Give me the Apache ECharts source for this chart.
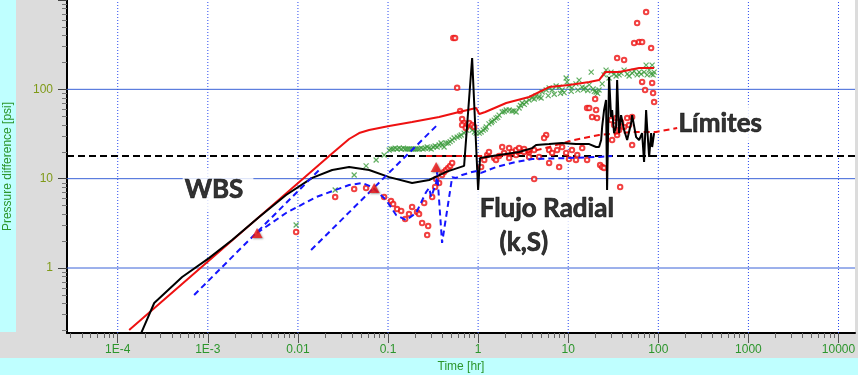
<!DOCTYPE html>
<html><head><meta charset="utf-8">
<script src="https://cdn.jsdelivr.net/npm/echarts@6/dist/echarts.min.js"></script>
<style>
html,body{margin:0;padding:0;}
#wrap{position:relative;width:858px;height:375px;background:#dcdcdc;overflow:hidden;}
.cy{position:absolute;background:#bfffff;}
#chart{position:absolute;left:0;top:0;width:858px;height:375px;}
</style></head><body>
<div id="wrap">
<div class="cy" style="left:0;top:0;width:16px;height:332px"></div>
<div class="cy" style="left:0;top:358px;width:858px;height:17px"></div>
<div id="chart"></div></div>
<script>
// ---- axis definitions (hr / psi) ----
const timeRange = [2.735e-5, 15240];
const pressureRange = [0.1873, 1000];
const xTickValues = [1e-4, 1e-3, 0.01, 0.1, 1, 10, 100, 1000, 10000];
const xTickLabels = ['1E-4', '1E-3', '0.01', '0.1', '1', '10', '100', '1000', '10000'];
const yTickValues = [1, 10, 100];
const yTickLabels = ['1', '10', '100'];
const yMajorTicks = [1, 10, 100, 1000];

// ---- data [time hr, pressure psi] ----
const pressureModel = [[1.34e-4,0.202],[0.0222,17.9],[0.0370,27.8],[0.0478,32.4],[0.0617,35.0],[0.103,38.8],[0.185,43.0],[0.369,49.0],[0.615,55.7],[0.951,61.8],[1.03,52.9],[1.2,55.7],[2.05,70.3],[3.68,82.1],[6.14,106],[10.2,112],[17.1,121],[22.0,127],[25.7,156],[36.7,156],[61.2,173],[89.8,173]];
const pressureData = [[1.82e-4,0.187],[2.54e-4,0.406],[5.19e-4,0.793],[1.03e-3,1.29],[1.86e-3,2.06],[3.71e-3,3.72],[7.39e-3,6.56],[0.0144,10.2],[0.024,12.5],[0.037,13.5],[0.0617,12.5],[0.103,10.4],[0.185,8.94],[0.286,9.66],[0.441,11.9],[0.699,13.9],[0.858,224],[1.0,7.46],[1.05,17.0],[1.71,18.4],[2.85,19.9],[3.97,22.0],[4.40,23.8],[6.14,24.4],[8.56,25.1],[12.2,24.4],[17.1,24.4],[20.4,22.6],[22.0,22.6],[23.2,27.1],[23.8,37.9],[25.0,58.7],[26.3,75.9],[27.0,7.46],[28.4,137],[29.9,49.0],[30.7,58.7],[32.3,32.4],[34.0,37.9],[34.9,127],[36.7,32.4],[38.6,51.5],[41.7,35.0],[45.1,27.1],[49.9,42.0],[51.2,51.5],[56.7,29.2],[61.2,27.1],[66.1,32.4],[69.5,15.4],[73.2,58.7],[75.1,37.9],[79.1,17.5],[83.2,32.4],[85.4,22.6],[89.8,32.4]];
const derivativeModel = [[0.00352,2.47],[0.00739,4.13],[0.0159,6.23],[0.0370,8.49],[0.0516,8.94],[0.0667,8.07],[0.0953,5.77],[0.123,3.92],[0.159,3.44],[0.205,4.13],[0.265,7.09],[0.286,7.86],[0.301,6.23],[0.342,8.94],[0.351,11.9],[0.398,1.91],[0.441,3.72],[0.515,10.4],[0.570,10.2],[0.664,11.0],[0.858,11.9],[0.975,12.2],[1.08,11.6],[1.58,13.5],[2.64,15.4],[3.97,16.6],[9.48,17.0],[22.0,17.5],[30.7,17.9]];
const unitSlopeA = [[7.05e-4,0.499],[0.0172,12.5]];
const unitSlopeB = [[0.0140,1.59],[0.342,38.8]];
const boundaryModel = [[0.265,17.9],[1.71,17.9],[3.68,19.9],[6.14,22.6],[11.6,27.1],[22.0,30.8],[51.2,33.3],[94.6,33.3],[162,36.9]];
const radialLevel = 17.9;
const flowMarkers = [[0.00352,2.47],[0.0702,7.86],[0.342,13.5]];
const derivativeData = [[0.00955,2.53],[0.0259,6.23],[0.0421,7.66],[0.0571,7.86],[0.0905,6.23],[0.108,5.62],[0.114,5.20],[0.126,4.57],[0.140,4.35],[0.155,3.53],[0.171,4.02],[0.185,4.82],[0.210,4.24],[0.221,4.02],[0.239,3.19],[0.252,5.34],[0.279,2.95],[0.272,2.34],[0.309,6.23],[0.333,8.07],[0.342,9.91],[0.369,8.94],[0.398,11.0],[0.419,11.9],[0.441,12.5],[0.465,13.2],[0.489,13.9],[0.515,15.0],[0.530,375],[0.555,375],[0.585,104],[0.631,57.2],[0.664,46.5],[0.699,42.0],[0.755,39.8],[0.795,42.0],[0.858,39.8],[0.903,37.9],[0.664,39.8],[0.73,37.0],[1.08,13.5],[1.17,16.2],[1.26,18.4],[1.32,19.9],[1.51,17.0],[1.58,16.2],[1.71,17.9],[1.85,22.6],[1.94,19.4],[2.21,17.0],[2.21,22.0],[2.38,19.9],[2.64,20.9],[2.64,18.4],[2.85,22.0],[3.24,21.5],[3.24,19.9],[3.68,19.9],[3.68,17.5],[4.19,20.9],[4.75,17.5],[5.69,30.8],[5.40,28.5],[6.14,20.9],[6.63,19.4],[7.53,20.9],[8.56,22.6],[9.48,19.4],[11.0,20.9],[12.6,18.4],[14.3,22.0],[16.2,16.2],[12.2,16.2],[7.93,13.5],[4.19,9.91],[6.14,15.0],[10.2,16.6],[22.6,14.2],[23.8,13.5],[25.0,13.2],[16.2,61.8],[17.1,61.8],[19.9,77.9],[20.4,58.7],[18.4,49.0],[20.9,47.7],[29.9,45.3],[32.3,39.8],[34.0,47.7],[36.7,35.0],[38.6,43.1],[41.7,37.9],[45.1,47.7],[47.4,39.8],[51.2,49.0],[30.7,27.1],[34.9,30.8],[51.2,23.8],[37.7,8.07],[73.2,733],[58.2,552],[53.9,330],[61.2,338],[66.1,338],[83.2,290],[34.9,224],[41.7,213],[66.1,121],[71.3,98.2],[85.4,118],[87.5,90.9],[89.8,72.1]];
const pressureChangeData = [[0.00955,3.03],[0.0259,7.46],[0.0421,11.0],[0.0571,13.9],[0.0738,16.2],[0.0905,18.4],[0.103,20.9],[0.108,21.5],[0.114,21.5],[0.120,22.0],[0.126,21.5],[0.133,22.0],[0.140,21.5],[0.148,22.0],[0.155,21.5],[0.163,21.5],[0.171,21.5],[0.180,21.5],[0.190,21.5],[0.200,21.5],[0.210,21.5],[0.221,21.5],[0.233,22.0],[0.245,21.5],[0.258,22.0],[0.272,22.6],[0.286,22.0],[0.301,21.5],[0.317,22.6],[0.333,23.2],[0.351,22.6],[0.369,23.8],[0.388,25.1],[0.398,23.8],[0.419,22.6],[0.441,25.1],[0.465,25.1],[0.489,26.0],[0.515,27.1],[0.542,28.5],[0.585,29.2],[0.620,29.9],[0.648,30.8],[0.699,32.4],[0.745,35.0],[0.795,37.9],[0.858,35.0],[0.910,33.3],[0.950,32.4],[1.03,32.4],[1.08,33.3],[1.14,35.0],[1.2,36.0],[1.23,37.9],[1.32,41.0],[1.4,42.5],[1.43,44.0],[1.51,45.3],[1.58,47.7],[1.65,48.5],[1.71,51.5],[1.85,55.7],[1.95,56.5],[2.05,58.7],[2.21,58.7],[2.38,57.2],[2.5,57.5],[2.64,55.7],[2.85,61.8],[2.95,66.0],[3.08,70.3],[3.25,68.0],[3.41,72.1],[3.68,75.9],[3.97,80.0],[4.2,78.0],[4.40,84.2],[4.75,82.1],[5.0,80.0],[5.13,93.3],[5.69,98.2],[6.0,85.0],[6.14,104],[6.63,98.2],[7.0,88.0],[7.34,109],[7.93,106],[8.2,90.0],[8.56,98.2],[9.0,92.0],[9.48,134],[9.72,121],[10.2,109],[10.8,95.0],[11.0,104],[12.2,115],[12.8,98.0],[13.2,127],[14.3,106],[14.8,100],[15.4,104],[16.5,97.0],[17.1,112],[18.0,156],[18.9,101],[19.5,95.0],[20.4,93.3],[21.2,90.0],[22.0,98.2],[23.8,115],[25.0,145],[26.3,164],[28.4,134],[29.9,156],[32.3,148],[34.0,141],[36.7,145],[38.6,152],[41.7,164],[45.1,148],[47.4,141],[51.2,152],[53.9,160],[58.2,145],[61.2,156],[64.4,148],[69.5,156],[73.2,187],[75.1,145],[79.1,164],[83.2,148],[85.4,187],[87.5,145],[89.8,156]];

// ---- annotations: text, anchor (left/middle of box) in [time hr, pressure psi] ----
const annotationTexts = ['WBS', 'Flujo Radial', '(k,S)', 'Límites'];
const annotationAnchors = [[5.19e-4, 7.46], [0.903, 4.57], [0.926, 1.93], [153.5, 41.4]];
const annotationPadding = [[7,10,7,2],[4,4,4,5],[0,14,0,24],[4,12,4,3]];

const L = v => Math.log10(v);
const toXY = arr => arr.map(([t, p]) => [L(t), L(p)]);
const xMin = L(timeRange[0]), xMax = L(timeRange[1]);
const yMin = L(pressureRange[0]), yMax = L(pressureRange[1]);

function minorTicks(lo, hi) {
  const out = [];
  for (let n = Math.floor(lo) - 1; n <= Math.ceil(hi); n++)
    for (let k = 2; k <= 9; k++) { const v = n + Math.log10(k); if (v > lo && v < hi) out.push(v); }
  return out;
}
const labelOf = (vals, labels) => v => { const i = vals.findIndex(x => Math.abs(L(x) - v) < 1e-6); return i >= 0 ? labels[i] : ''; };

const chart = echarts.init(document.getElementById('chart'), null, {renderer: 'canvas'});
const green = '#2c962c', labelFont = 'Liberation Sans';
const series = [];
yTickValues.forEach(v => series.push({type:'line', data:[[xMin, L(v)], [xMax, L(v)]], symbol:'none', silent:true, z:1, animation:false,
  lineStyle:{color:'#3b63d8', width:1}}));
xTickValues.forEach(v => series.push({type:'line', data:[[L(v), yMin], [L(v), yMax]], symbol:'none', silent:true, z:1, animation:false,
  lineStyle:{color:'#2a4af0', width:1, type:[1,2]}}));
series.push({type:'scatter', z:2, silent:true, animation:false, symbolSize:1, itemStyle:{color:'rgba(0,0,0,0)'},
  data: annotationTexts.map((txt, i) => ({value:[L(annotationAnchors[i][0]), L(annotationAnchors[i][1])],
    label:{show:true, position:'right', distance:0, formatter: txt, padding: annotationPadding[i], backgroundColor:'#fff',
      color:'#000', fontFamily:'Lato', fontWeight:'bold', fontSize:26, lineHeight:30, textBorderColor:'#000', textBorderWidth:0.7}}))});
series.push({type:'line', data:[[xMin, L(radialLevel)], [xMax, L(radialLevel)]], symbol:'none', z:3, animation:false,
  lineStyle:{color:'#000', width:2, type:[7,4]}});
series.push({type:'scatter', data:toXY(pressureChangeData), z:4, animation:false, symbol:'path://M0,0L10,10M10,0L0,10', symbolSize:5,
  itemStyle:{color:'#3a9a3a', borderColor:'#3a9a3a', borderWidth:1.2}});
series.push({type:'scatter', data:toXY(derivativeData), z:4, animation:false, symbol:'emptyCircle', symbolSize:4.5,
  itemStyle:{color:'#ee1111', borderColor:'#ee1111', borderWidth:1}});
series.push({type:'line', data:toXY(pressureModel), symbol:'none', z:5, animation:false, lineStyle:{color:'#ee1111', width:2}});
series.push({type:'line', data:toXY(boundaryModel), symbol:'none', z:5, animation:false, lineStyle:{color:'#ee1111', width:2, type:[6,4]}});
series.push({type:'line', data:toXY(pressureData), symbol:'none', z:6, animation:false, lineStyle:{color:'#000', width:2}});
[derivativeModel, unitSlopeA, unitSlopeB].forEach(d => series.push({type:'line', data:toXY(d), symbol:'none', z:6, animation:false,
  lineStyle:{color:'#1515ff', width:2, type:[6,4]}}));
series.push({type:'scatter', data:toXY(flowMarkers), z:7, animation:false, symbol:'triangle', symbolSize:[11,10],
  itemStyle:{color:'#ee1111', shadowColor:'rgba(90,90,90,0.7)', shadowBlur:2, shadowOffsetX:1, shadowOffsetY:1}});

chart.setOption({
  animation:false,
  backgroundColor:'transparent',
  grid:{left:67, right:3, top:0, bottom:42, show:true, backgroundColor:'#fff', borderWidth:0, containLabel:false, outerBoundsMode:'none'},
  xAxis:[
    {type:'value', min:xMin, max:xMax, position:'bottom',
     axisLine:{show:true, onZero:false, lineStyle:{color:'#000', width:2}},
     axisTick:{show:true, customValues:xTickValues.map(L), length:10, lineStyle:{color:'#555'}},
     axisLabel:{show:true, customValues:xTickValues.map(L), formatter:labelOf(xTickValues, xTickLabels), color:green, fontFamily:labelFont, fontSize:12, margin:11},
     splitLine:{show:false},
     name:'Time [hr]', nameLocation:'middle', nameGap:26, nameTextStyle:{color:green, fontFamily:labelFont, fontSize:12}},
    {type:'value', min:xMin, max:xMax, position:'bottom',
     axisLine:{show:false, onZero:false}, axisTick:{show:true, customValues:minorTicks(xMin, xMax), length:5, lineStyle:{color:'#666'}},
     axisLabel:{show:false}, splitLine:{show:false}}
  ],
  yAxis:[
    {type:'value', min:yMin, max:yMax, position:'left',
     axisLine:{show:true, onZero:false, lineStyle:{color:'#000', width:2}},
     axisTick:{show:true, customValues:yMajorTicks.map(L), length:9, lineStyle:{color:'#444'}},
     axisLabel:{show:true, customValues:yTickValues.map(L), formatter:labelOf(yTickValues, yTickLabels), color:'#7f9a18', fontFamily:labelFont, fontSize:12, margin:14},
     splitLine:{show:false},
     name:'Pressure difference [psi]', nameLocation:'middle', nameGap:53, nameTextStyle:{color:green, fontFamily:labelFont, fontSize:12}},
    {type:'value', min:yMin, max:yMax, position:'left',
     axisLine:{show:false, onZero:false}, axisTick:{show:true, customValues:minorTicks(yMin, yMax), length:5, lineStyle:{color:'#777'}},
     axisLabel:{show:false}, splitLine:{show:false}}
  ],
  series: series
});
</script></body></html>
